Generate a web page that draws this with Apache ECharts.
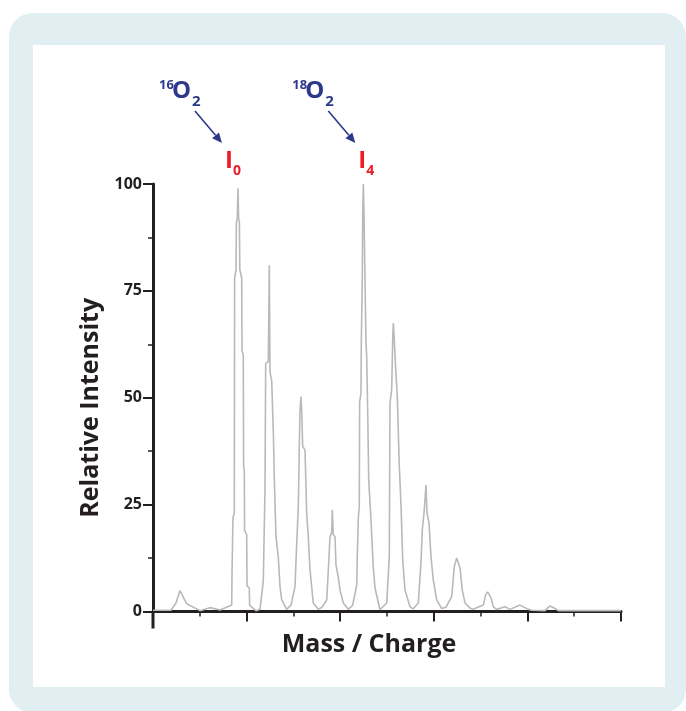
<!DOCTYPE html>
<html>
<head>
<meta charset="utf-8">
<script src="https://cdn.jsdelivr.net/npm/echarts@6/dist/echarts.min.js"></script>
<style>
  html, body { margin: 0; padding: 0; background: #fff; }
  .frame { position: absolute; left: 9px; top: 13px; width: 677px; height: 700px; background: #e1eef2; border-radius: 24px; }
  .panel { position: absolute; left: 33px; top: 45px; width: 632px; height: 642px; background: #fff; }
  #chart { position: absolute; left: 0; top: 0; width: 686px; height: 711px; }
</style>
</head>
<body>
<div class="frame"></div>
<div class="panel"></div>
<div id="chart"></div>
<script>
// mass / charge positions (arbitrary units, axis 0..100) and relative intensity
const massCharge = [
  0.00, 3.85, 4.91, 5.77, 7.20, 10.04, 12.18, 14.32, 16.82,
  16.88, 17.09, 17.37, 17.44, 17.74, 17.82, 18.01, 18.16, 18.29, 18.46, 18.55, 18.95,
  19.02, 19.29, 19.36, 19.51, 19.57, 20.02, 20.09, 20.58, 20.64, 21.09, 22.01,
  22.86, 23.35, 23.57, 23.78, 23.93, 24.08, 24.64, 24.85, 25.00, 25.36, 25.71, 25.92,
  26.28, 26.77, 27.14, 27.50, 28.57,
  29.49, 30.34, 30.71, 31.05, 31.26, 31.41, 31.62, 31.77, 31.99, 32.48, 32.84, 33.18,
  33.55, 34.25, 35.32,
  36.11, 37.12, 37.46, 37.82, 38.18, 38.31, 38.53, 38.89, 39.10, 39.59, 39.96, 40.66, 41.73,
  42.67, 43.53, 43.65, 43.87, 44.08, 44.15, 44.44, 44.51, 44.72, 44.81, 44.94, 45.09,
  45.30, 45.51, 45.66, 45.88, 46.09, 46.58, 47.07, 47.44, 48.50,
  49.94, 50.49, 50.64, 51.00, 51.22, 51.35, 51.56, 51.86, 52.20, 52.63, 52.99, 53.36,
  53.85, 54.91, 55.56,
  56.69, 57.26, 57.54, 57.97, 58.33, 58.55, 58.97, 59.40, 59.89, 60.62, 61.69,
  62.61, 63.82, 64.38, 64.89, 65.24, 65.60, 66.09, 66.67, 67.74, 68.38,
  70.58, 71.09, 71.52, 71.79, 72.22, 72.72, 73.44,
  75.21, 76.28, 78.42, 80.19, 80.92, 83.76, 84.83, 85.90, 86.60, 100.00
];
const relIntensity = [
  0.3, 0.3, 2.0, 4.9, 1.8, 0.2, 0.9, 0.35, 1.5,
  9, 22, 23, 78, 80, 91, 92, 99, 92, 91, 80, 78,
  61, 60, 34, 33, 19, 18, 6, 5.5, 1.5, 1, 0.2,
  0.5, 5, 7.4, 20, 28.5, 58, 58.5, 81, 56, 54, 42, 31,
  17.5, 12.8, 5.8, 2.7, 0.5,
  1.5, 5.8, 16, 24.5, 38.6, 47, 50.3, 47, 38.6, 37.8, 23, 17.5,
  9.7, 2, 0.5,
  1, 2.7, 9.7, 17.5, 18.4, 23.8, 18, 17.5, 10.9, 8, 5, 2, 0.5,
  1.5, 6.2, 13, 22, 24.5, 49, 51, 63, 77.6, 92.5, 100, 93,
  77.6, 63, 59.7, 46.5, 30.8, 21.4, 10.2, 5.5, 0.4,
  2, 12.8, 48.8, 51.9, 63.6, 67.5, 63.6, 56.6, 50.3, 34, 25, 12,
  5, 1.1, 0.6,
  2, 11.4, 19, 23.8, 29.6, 23, 20.7, 12.8, 7.4, 2.7, 0.7,
  1, 3.5, 10.5, 12.5, 12.3, 10.2, 5, 2, 0.8, 0.5,
  1.5, 3.9, 4.6, 4.6, 3.2, 1.1, 0.5,
  1.1, 0.5, 1.5, 0.5, 0.3, 0.2, 1.3, 0.7, 0.2, 0.2
];
const yTicks = [0, 25, 50, 75, 100];
const peakTags = [
  { mz: 18.16, iso: '16', sub: '0' },
  { mz: 44.94, iso: '18', sub: '4' }
];

const ink = '#231f20';
const blue = '#2d3a8c';
const red = '#ed1c24';
const fontFamily = '"Open Sans", "DejaVu Sans", sans-serif';

const chart = echarts.init(document.getElementById('chart'));

chart.setOption({
  animation: false,
  grid: { left: 153, right: 65, top: 184, bottom: 99.5 },
  xAxis: {
    type: 'value',
    min: 0,
    max: 100,
    interval: 20,
    offset: 2,
    name: 'Mass / Charge',
    nameLocation: 'middle',
    nameGap: 19,
    nameTextStyle: {
      color: ink, fontSize: 25, fontWeight: 'bold', fontFamily,
      verticalAlign: 'top', padding: [0, 36, 0, 0]
    },
    axisLine: { lineStyle: { color: ink, width: 3 } },
    axisTick: { length: 10, lineStyle: { color: ink, width: 2 } },
    minorTick: { show: true, splitNumber: 2, length: 5, lineStyle: { color: ink, width: 1.5 } },
    axisLabel: { show: false },
    splitLine: { show: false }
  },
  yAxis: {
    type: 'value',
    min: yTicks[0],
    max: yTicks[yTicks.length - 1],
    interval: 25,
    name: 'Relative Intensity',
    nameLocation: 'middle',
    nameGap: 38,
    nameTextStyle: {
      color: ink, fontSize: 25, fontWeight: 'bold', fontFamily,
      padding: [0, 20, 0, 0]
    },
    axisLine: { show: true, lineStyle: { color: ink, width: 3 } },
    axisTick: { show: true, length: 10, lineStyle: { color: ink, width: 2 } },
    minorTick: { show: true, splitNumber: 2, length: 5, lineStyle: { color: ink, width: 1.5 } },
    axisLabel: { color: ink, fontSize: 16, fontWeight: 'bold', fontFamily, margin: 11 },
    splitLine: { show: false }
  },
  series: [{
    type: 'line',
    data: massCharge.map((m, i) => [m, relIntensity[i]]),
    showSymbol: false,
    lineStyle: { color: '#b9b9bc', width: 1.6 },
    z: 1
  }]
});

// annotations, anchored on the tagged peaks
const toPx = (pt) => chart.convertToPixel({ xAxisIndex: 0, yAxisIndex: 0 }, pt);
const tagShift = [-11, -3];
const [, yTop] = toPx([0, 100]);
const [axisX, yZero] = toPx([0, 0]);
const graphics = [];

const textEl = (x, y, text, size, color) => ({
  type: 'text',
  x, y,
  style: {
    text,
    font: 'bold ' + size + 'px ' + fontFamily,
    fill: color,
    align: 'left', verticalAlign: 'middle',
    textAlign: 'left', textVerticalAlign: 'middle'
  }
});

const arrowEl = (x1, y1, x2, y2) => {
  const ang = Math.atan2(y2 - y1, x2 - x1);
  const len = 10, half = 4.5;
  const bx = x2 - len * Math.cos(ang), by = y2 - len * Math.sin(ang);
  const nx = -Math.sin(ang) * half, ny = Math.cos(ang) * half;
  return [
    { type: 'line', shape: { x1, y1, x2: bx, y2: by }, style: { stroke: blue, lineWidth: 1.6 } },
    { type: 'polygon', shape: { points: [[x2, y2], [bx + nx, by + ny], [bx - nx, by - ny]] }, style: { fill: blue } }
  ];
};

peakTags.forEach((tag, i) => {
  const [px] = toPx([tag.mz, 100]);
  const ax = px + tagShift[i];
  graphics.push(textEl(ax - 2, yTop - 22.5, 'I', 24, red));
  graphics.push(textEl(ax + 6, yTop - 13, tag.sub, 14, red));
  graphics.push(textEl(ax - 68, yTop - 99, tag.iso, 13, blue));
  graphics.push(textEl(ax - 55, yTop - 93, 'O', 24, blue));
  graphics.push(textEl(ax - 35, yTop - 82.5, '2', 15, blue));
  graphics.push(...arrowEl(ax - 32, yTop - 73, ax - 5, yTop - 41));
});

// y axis line runs on past the x axis
graphics.push({
  type: 'line',
  shape: { x1: axisX, y1: yZero, x2: axisX, y2: yZero + 17 },
  style: { stroke: ink, lineWidth: 3 }
});

chart.setOption({ graphic: graphics });
</script>
</body>
</html>
